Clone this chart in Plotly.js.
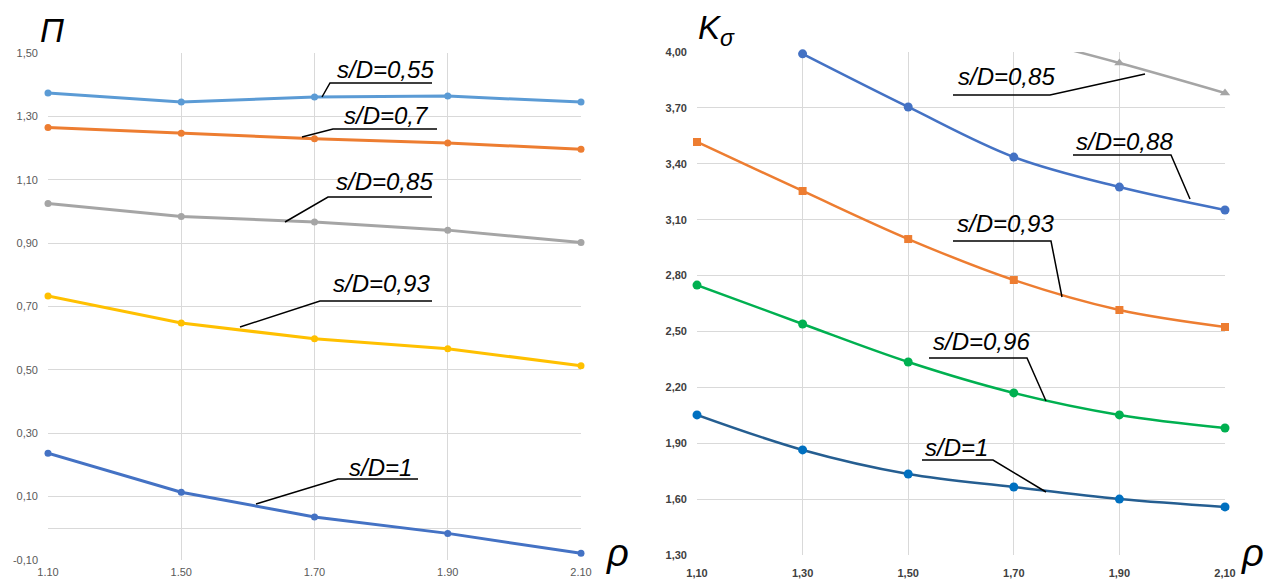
<!DOCTYPE html>
<html>
<head>
<meta charset="utf-8">
<script src="https://cdn.plot.ly/plotly-3.0.1.min.js"></script>
<style>html,body{margin:0;padding:0;background:#fff;}#chart{width:1272px;height:582px;}</style>
</head>
<body>
<div id="chart"></div>
<script>
// ---- Left chart data (П vs ρ) ----
const xLeft = ['1.10', '1.50', '1.70', '1.90', '2.10'];
const pi055 = [1.374, 1.345, 1.361, 1.364, 1.345];
const pi07  = [1.265, 1.247, 1.229, 1.216, 1.196];
const pi085 = [1.025, 0.984, 0.967, 0.941, 0.902];
const pi093 = [0.733, 0.648, 0.598, 0.567, 0.513];
const pi1   = [0.237, 0.114, 0.036, -0.016, -0.079];

// ---- Right chart data (Kσ vs ρ) ----
const xRight = ['1,10', '1,30', '1,50', '1,70', '1,90', '2,10'];
const k085 = [null, null, null, 4.09, 3.941, 3.78];
const k088 = [null, 3.99, 3.705, 3.436, 3.275, 3.152];
const k093 = [3.517, 3.254, 2.996, 2.776, 2.615, 2.524];
const k096 = [2.749, 2.54, 2.336, 2.17, 2.052, 1.982];
const k1   = [2.052, 1.864, 1.735, 1.665, 1.60, 1.558];

const leftTicks = [-0.1, 0.1, 0.3, 0.5, 0.7, 0.9, 1.1, 1.3, 1.5];
const rightTicks = [1.3, 1.6, 1.9, 2.2, 2.5, 2.8, 3.1, 3.4, 3.7, 4.0];
const fmt = v => v.toFixed(2).replace('.', ',');

const W = 1272, H = 582;
const px = x => x / W;
const py = y => 1 - y / H;
const RMAX = 4.0;

function leftTrace(y, color) {
  return {x: xLeft, y: y, xaxis: 'x', yaxis: 'y', mode: 'lines+markers', type: 'scatter',
    line: {color: color, width: 3}, marker: {color: color, size: 7}, cliponaxis: false, hoverinfo: 'none'};
}
function rightTrace(y, color, mcolor, symbol, size) {
  return {x: xRight, y: y, xaxis: 'x2', yaxis: 'y2', mode: 'lines+markers', type: 'scatter',
    line: {color: color, width: 2.5, shape: 'spline'},
    marker: {color: mcolor, size: size, symbol: symbol,
      opacity: y.map(v => (v !== null && v <= RMAX + 0.001) ? 1 : 0)},
    cliponaxis: false, hoverinfo: 'none'};
}

const data = [
  leftTrace(pi055, '#5B9BD5'),
  leftTrace(pi07, '#ED7D31'),
  leftTrace(pi085, '#A5A5A5'),
  leftTrace(pi093, '#FFC000'),
  leftTrace(pi1, '#4472C4'),
  rightTrace(k085, '#A5A5A5', '#A5A5A5', 'triangle-up', 9),
  rightTrace(k088, '#4472C4', '#4472C4', 'circle', 9),
  rightTrace(k093, '#ED7D31', '#ED7D31', 'square', 8),
  rightTrace(k096, '#00B050', '#00B050', 'circle', 9),
  rightTrace(k1, '#255E91', '#0070C0', 'circle', 9)
];

const labels = [
  ['s/D=0,55', 385, 69, [[322, 97], [330, 83], [432, 83]]],
  ['s/D=0,7', 386, 116, [[302, 137], [333, 129], [437, 129]]],
  ['s/D=0,85', 384, 181, [[285, 222], [328, 197], [432, 197]]],
  ['s/D=0,93', 381, 283, [[240, 327], [320, 301], [432, 301]]],
  ['s/D=1', 380, 467, [[256, 504], [338, 479], [418, 479]]],
  ['s/D=0,85', 1006, 77, [[953, 95], [1050, 95], [1145, 74]]],
  ['s/D=0,88', 1124, 141, [[1073, 155], [1171, 155], [1190, 199]]],
  ['s/D=0,93', 1005, 224, [[953, 241], [1051, 241], [1062, 297]]],
  ['s/D=0,96', 981, 341, [[929, 358], [1027, 358], [1046, 401]]],
  ['s/D=1', 956, 447, [[922, 460], [993, 460], [1046, 492]]]
];

const annotations = [];
const shapes = [];
labels.forEach(([t, cx, cy, pts]) => {
  annotations.push({text: '<i>' + t + '</i>', x: px(cx), y: py(cy), xref: 'paper', yref: 'paper',
    xanchor: 'center', yanchor: 'middle', showarrow: false,
    font: {family: 'Liberation Sans, Arial, sans-serif', size: 24, color: '#000'}});
  const path = pts.map((p, i) => (i ? 'L' : 'M') + px(p[0]) + ',' + py(p[1])).join(' ');
  shapes.push({type: 'path', path: path, xref: 'paper', yref: 'paper', line: {color: '#000', width: 1.5}});
});

const titleFont = {family: 'Liberation Sans, Arial, sans-serif', size: 33, color: '#000'};
annotations.push({text: '<i>П</i>', x: px(52), y: py(30), xref: 'paper', yref: 'paper', showarrow: false,
  xanchor: 'center', yanchor: 'middle', font: titleFont});
annotations.push({text: '<i>K<sub>σ</sub></i>', x: px(716), y: py(30), xref: 'paper', yref: 'paper', showarrow: false,
  xanchor: 'center', yanchor: 'middle', font: titleFont});
annotations.push({text: '<i>ρ</i>', x: px(617), y: py(553), xref: 'paper', yref: 'paper', showarrow: false,
  xanchor: 'center', yanchor: 'middle', font: {family: 'Liberation Sans, Arial, sans-serif', size: 38, color: '#000'}});
annotations.push({text: '<i>ρ</i>', x: px(1252), y: py(553), xref: 'paper', yref: 'paper', showarrow: false,
  xanchor: 'center', yanchor: 'middle', font: {family: 'Liberation Sans, Arial, sans-serif', size: 38, color: '#000'}});

const grid = '#D9D9D9';
const layout = {
  width: W, height: H,
  margin: {l: 0, r: 0, t: 0, b: 0},
  paper_bgcolor: '#fff', plot_bgcolor: '#fff',
  showlegend: false,
  xaxis: {domain: [px(48), px(581)], type: 'category', range: [0, xLeft.length - 1], anchor: 'y',
    showgrid: true, gridcolor: grid, gridwidth: 1, zeroline: false, showline: false,
    tickfont: {family: 'Liberation Sans, Arial, sans-serif', size: 11, color: '#595959'}, ticklabelstandoff: 4},
  yaxis: {domain: [1 - 560 / H, 1 - 53 / H], range: [-0.1, 1.5], anchor: 'x',
    tickvals: leftTicks, ticktext: leftTicks.map(fmt),
    showgrid: true, gridcolor: grid, gridwidth: 1, zeroline: true, zerolinecolor: grid, zerolinewidth: 1,
    showline: false,
    tickfont: {family: 'Liberation Sans, Arial, sans-serif', size: 11, color: '#595959'}, ticklabelstandoff: 9},
  xaxis2: {domain: [px(697), px(1225)], type: 'category', range: [0, xRight.length - 1], anchor: 'y2',
    showgrid: true, gridcolor: grid, gridwidth: 1, zeroline: false, showline: false,
    tickfont: {family: 'Liberation Sans, Arial, sans-serif', size: 11, color: '#404040', weight: 'bold'}, ticklabelstandoff: 10},
  yaxis2: {domain: [1 - 555 / H, 1 - 52 / H], range: [1.3, 4.0], anchor: 'x2',
    tickvals: rightTicks, ticktext: rightTicks.map(fmt),
    showgrid: true, gridcolor: grid, gridwidth: 1, zeroline: false, showline: false,
    tickfont: {family: 'Liberation Sans, Arial, sans-serif', size: 11, color: '#404040', weight: 'bold'}, ticklabelstandoff: 9},
  annotations: annotations,
  shapes: shapes
};

Plotly.newPlot('chart', data, layout, {staticPlot: true, displayModeBar: false});
</script>
</body>
</html>
